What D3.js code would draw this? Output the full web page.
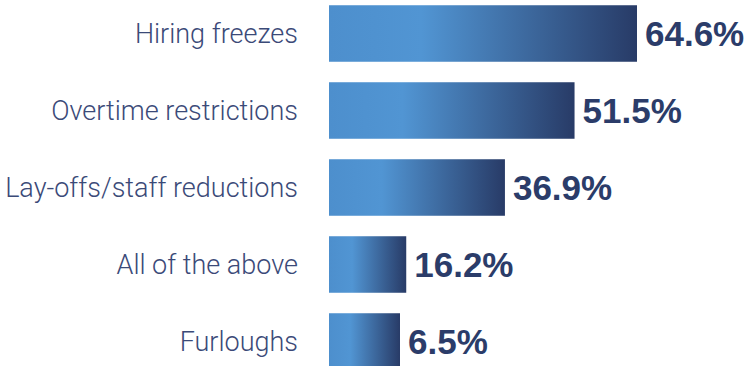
<!DOCTYPE html>
<html>
<head>
<meta charset="utf-8">
<script src="https://cdn.jsdelivr.net/npm/d3@7"></script>
<style>
  body { margin: 0; background: #fff; }
  svg { display: block; }
  .cat { font-family: Roboto, "Liberation Sans", sans-serif; font-weight: 300; font-size: 27px; fill: #3b4a78; }
  .val { font-family: "Liberation Sans", Arial, sans-serif; font-weight: 700; font-size: 35px; fill: #2b3c69; }
</style>
</head>
<body>
<div id="chart"></div>
<script>
var categories = ["Hiring freezes", "Overtime restrictions", "Lay-offs/staff reductions", "All of the above", "Furloughs"],
    values = [64.6, 51.5, 36.9, 16.2, 6.5];

var w = 751, h = 366,
    barLeft = 329,
    minBar = 71; // smallest bars are drawn a bit wider so the gradient shows

var svg = d3.select("#chart")
  .append("svg")
    .attr("width", w)
    .attr("height", h);

var x = d3.scaleLinear()
    .domain([0, d3.max(values)])
    .range([barLeft, 637]);

var y = d3.scaleBand()
    .domain(categories)
    .range([-5, 380])
    .paddingInner(0.266)
    .paddingOuter(0.133);

// gradient: flat light blue, then darkens to navy on the right
var grad = svg.append("defs")
  .append("linearGradient")
    .attr("id", "barGrad")
    .attr("x1", "0").attr("x2", "1")
    .attr("y1", "0").attr("y2", "0");
grad.append("stop").attr("offset", "0").attr("stop-color", "#4d8fcd");
grad.append("stop").attr("offset", "0.3").attr("stop-color", "#5195d3");
grad.append("stop").attr("offset", "1").attr("stop-color", "#283b67");

var data = categories.map(function(c, i) { return { cat: c, val: values[i] }; });

function barEnd(d) {
  return Math.max(x(d.val), barLeft + minBar);
}

var row = svg.selectAll(".row")
  .data(data)
  .enter().append("g")
    .attr("class", "row");

row.append("rect")
    .attr("x", barLeft)
    .attr("y", function(d) { return y(d.cat); })
    .attr("width", function(d) { return barEnd(d) - barLeft; })
    .attr("height", y.bandwidth())
    .attr("fill", "url(#barGrad)");

row.append("text")
    .attr("class", "cat")
    .attr("x", barLeft - 31)
    .attr("y", function(d) { return y(d.cat) + y.bandwidth() / 2; })
    .attr("dy", "0.35em")
    .attr("text-anchor", "end")
    .text(function(d) { return d.cat; });

row.append("text")
    .attr("class", "val")
    .attr("x", function(d) { return barEnd(d) + 8; })
    .attr("y", function(d) { return y(d.cat) + y.bandwidth() / 2; })
    .attr("dy", "0.36em")
    .text(function(d) { return d3.format(".1f")(d.val) + "%"; });
</script>
</body>
</html>
